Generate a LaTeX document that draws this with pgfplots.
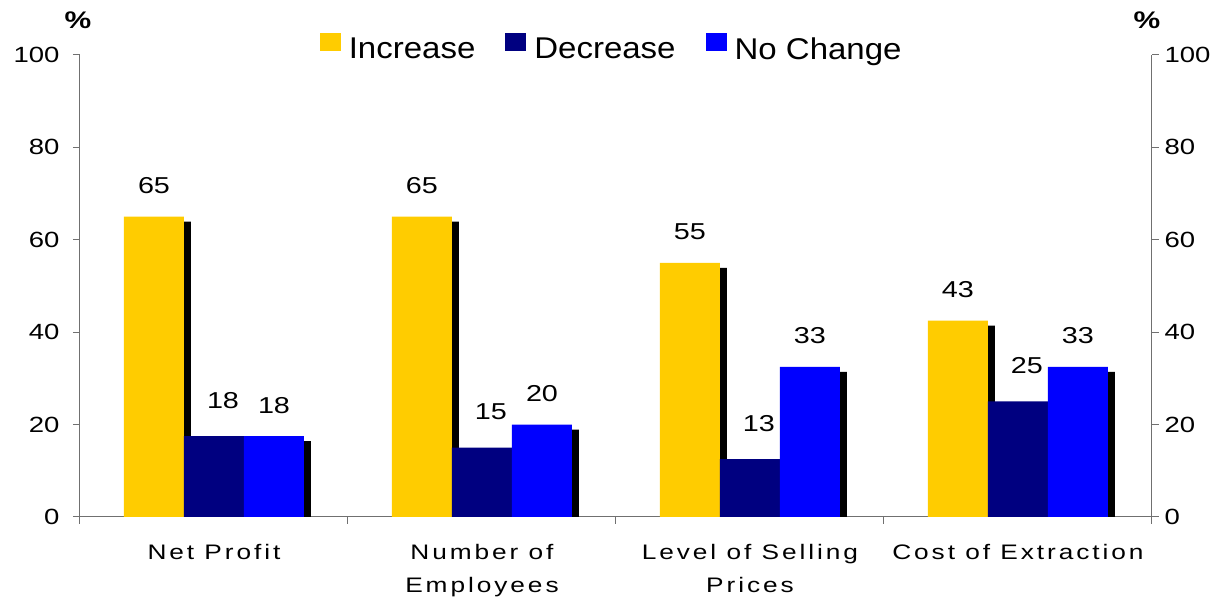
\documentclass[border=0pt]{standalone}
\usepackage{fontspec}
\usepackage{pgfplots}
\usepackage{pgfplotstable}
\pgfplotsset{compat=1.18}
\setmainfont{Liberation Sans}
\newfontfamily\tickfont{Liberation Sans}[FakeStretch=1.25]
\newfontfamily\catfont{Liberation Sans}[FakeStretch=1.25,LetterSpace=14]
\newfontfamily\legfont{Liberation Sans}[FakeStretch=1.1]
\definecolor{cInc}{HTML}{FFCC00}
\definecolor{cDec}{HTML}{000080}
\definecolor{cNoc}{HTML}{0000FF}
\definecolor{axgray}{HTML}{707070}

\pgfplotstableread{
x y lab
0 65 65
1 65 65
2 55 55
3 42.5 43
}\inc
\pgfplotstableread{
x y lab
0 17.5 18
1 15 15
2 12.5 13
3 25 25
}\dec
\pgfplotstableread{
x y lab
0 17.5 18
1 20 20
2 32.5 33
3 32.5 33
}\noc

\pgfplotsset{
  sqleg/.style={legend image code/.code={\fill[##1] (0pt,-2pt) rectangle (21pt,16pt);}},
  shadow/.style={ybar, bar width=60pt, fill=black, draw=none, yshift=-5pt, forget plot},
}

\begin{document}
\begin{tikzpicture}
\begin{axis}[
  name=main, at={(0,0)}, anchor=south west,
  scale only axis, width=1072pt, height=462pt,
  xmin=-0.5, xmax=3.5, ymin=0, ymax=100,
  axis lines*=left,
  axis line style={draw=axgray, line width=1pt},
  every tick/.style={draw=axgray, line width=1pt},
  tick align=outside,
  major tick length=7pt, minor tick length=7pt,
  ytick={0,20,...,100},
  xtick={0,1,2,3},
  xticklabels={Net Profit, Number of\\Employees, Level of Selling\\Prices, Cost of Extraction},
  major x tick style={draw=none},
  minor xtick={-0.5,0.5,1.5,2.5,3.5},
  /pgf/number format/assume math mode=true,
  yticklabel style={font=\tickfont\fontsize{22pt}{26pt}\selectfont, xshift=-10pt},
  xticklabel style={font=\catfont\fontsize{21pt}{33pt}\selectfont, align=center, yshift=-17pt},
  legend columns=3,
  legend style={draw=none, fill=none, at={(0.496,1)}, anchor=center, yshift=7pt,
    font=\legfont\fontsize{30pt}{36pt}\selectfont,
    /tikz/every odd column/.append style={column sep=6pt},
    /tikz/every even column/.append style={column sep=28pt}},
  clip=true,
]
\addplot[shadow, bar shift=-53pt] table[x=x,y=y]{\inc};
\addplot[shadow, bar shift=7pt] table[x=x,y=y]{\dec};
\addplot[shadow, bar shift=67pt] table[x=x,y=y]{\noc};

\addplot[ybar, bar width=60pt, bar shift=-60pt, fill=cInc, draw=none, sqleg,
  nodes near coords, point meta=explicit symbolic,
  every node near coord/.append style={anchor=center, yshift=31pt, xshift=-60pt, text=black, font=\tickfont\fontsize{23pt}{26pt}\selectfont}]
  table[x=x,y=y,meta=lab]{\inc};
\addlegendentry{Increase}
\addplot[ybar, bar width=60pt, bar shift=0pt, fill=cDec, draw=none, sqleg,
  nodes near coords, point meta=explicit symbolic,
  every node near coord/.append style={anchor=center, yshift=36pt, xshift=9pt, text=black, font=\tickfont\fontsize{23pt}{26pt}\selectfont}]
  table[x=x,y=y,meta=lab]{\dec};
\addlegendentry{Decrease}
\addplot[ybar, bar width=60pt, bar shift=60pt, fill=cNoc, draw=none, sqleg,
  nodes near coords, point meta=explicit symbolic,
  every node near coord/.append style={anchor=center, yshift=31pt, xshift=60pt, text=black, font=\tickfont\fontsize{23pt}{26pt}\selectfont}]
  table[x=x,y=y,meta=lab]{\noc};
\addlegendentry{No Change}
\end{axis}
\begin{axis}[
  at={(0,0)}, anchor=south west,
  scale only axis, width=1072pt, height=462pt,
  xmin=-0.5, xmax=3.5, ymin=0, ymax=100,
  axis x line=none, axis y line*=right,
  axis line style={draw=axgray, line width=1pt},
  every tick/.style={draw=axgray, line width=1pt},
  tick align=outside, major tick length=7pt,
  ytick={0,20,...,100},
  /pgf/number format/assume math mode=true,
  yticklabel style={font=\tickfont\fontsize{22pt}{26pt}\selectfont, xshift=2pt},
]
\end{axis}
\node[font=\tickfont\bfseries\fontsize{24pt}{28pt}\selectfont] at (-2pt,497pt) {\%};
\node[font=\tickfont\bfseries\fontsize{24pt}{28pt}\selectfont] at (1067pt,497pt) {\%};
\pgfresetboundingbox
\path (-80pt,-84pt) rectangle (1143pt,517pt);
\end{tikzpicture}
\end{document}
